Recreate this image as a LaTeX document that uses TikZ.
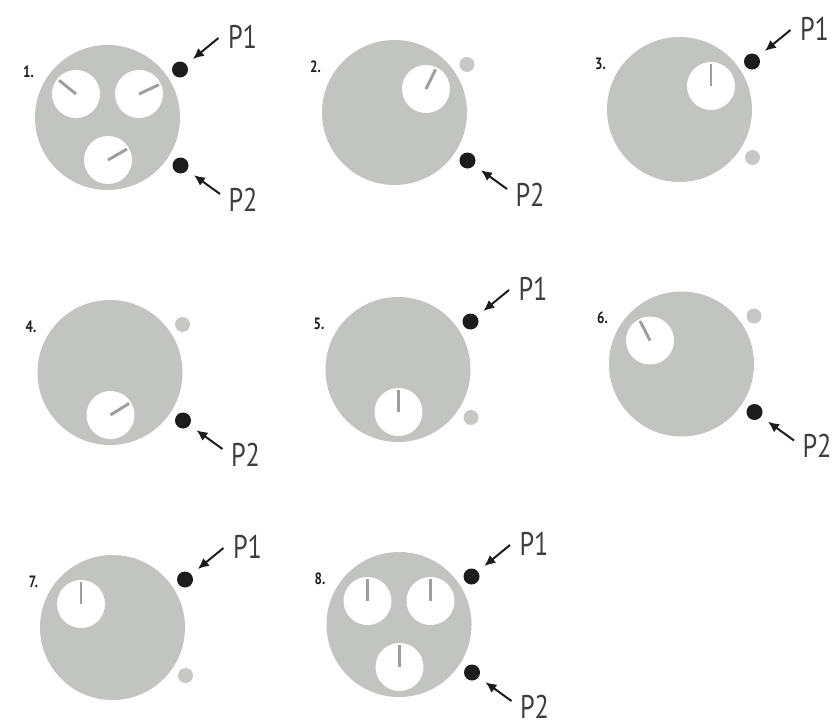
\documentclass[tikz,border=0pt]{standalone}
\usepackage{fontspec}
\newfontfamily\lblfont[FakeStretch=0.8]{PT Sans}
\usepackage{xcolor}
\definecolor{diskgray}{RGB}{193,196,192}
\definecolor{offgray}{RGB}{199,200,198}
\definecolor{needlegray}{RGB}{158,158,156}
\definecolor{inkdark}{RGB}{28,28,28}
\usetikzlibrary{arrows.meta,calc,positioning}
\tikzset{
  disk/.style={circle,fill=diskgray,
    minimum size=4.35cm,inner sep=0pt},
  hole/.style={circle,fill=white,
    minimum size=1.44cm,inner sep=0pt},
  needle/.style={line width=2.5pt,draw=needlegray,
    shorten >=2pt},
  pon/.style={circle,fill=inkdark,
    minimum size=0.48cm,inner sep=0pt},
  poff/.style={circle,fill=offgray,
    minimum size=0.45cm,inner sep=0pt},
  plbl/.style={font=\lblfont\fontsize{28}{30}\selectfont,
    text=inkdark!85,inner sep=0pt},
  numlbl/.style={font=\lblfont\bfseries\fontsize{14}{16}\selectfont,
    text=inkdark,inner sep=0pt},
  ptr/.style={-{Latex[length=0.33cm,width=0.3cm]},
    line width=1.7pt,draw=inkdark,shorten >=0.25cm},
}

\begin{document}
\begin{tikzpicture}[x=0.03cm,y=0.03cm]
  \useasboundingbox (0,0) rectangle (834,-727);

  % 1: three holes, both ports
  \node (d1) [disk] at (107.5,-117.5) {};
  \node (n1) [numlbl] at ($(d1)+(-79,46)$) {1.};
  \node (h1tl) [hole] at ($(d1)+(-31.5,23.5)$) {};
  \node (h1tr) [hole] at ($(d1)+(31.5,23.5)$) {};
  \node (h1b)  [hole] at ($(d1)+(0.5,-42.5)$) {};
  \draw[needle] (h1tl.center) -- (h1tl.141);
  \draw[needle] (h1tr.center) -- (h1tr.25);
  \draw[needle] (h1b.center)  -- (h1b.30);
  \node (s1up) [pon] at ($(d1)+(72.5,48)$) {};
  \node (s1dn) [pon] at ($(d1)+(73,-48)$) {};
  \node (l1up) [plbl] at ($(s1up)+(62.5,32.5)$) {P1};
  \node (l1dn) [plbl] at ($(s1dn)+(62.5,-34)$) {P2};
  \coordinate (t1up) at ($(s1up)+(38.5,31.5)$);
  \coordinate (t1dn) at ($(s1dn)+(39.5,-28.5)$);
  \draw[ptr] (t1up) -- (s1up);
  \draw[ptr] (t1dn) -- (s1dn);

  % 2
  \node (d2) [disk] at (394.5,-112.5) {};
  \node (n2) [numlbl] at ($(d2)+(-79,46)$) {2.};
  \node (h2tr) [hole] at ($(d2)+(31.5,23.5)$) {};
  \draw[needle] (h2tr.center) -- (h2tr.64);
  \node (s2up) [poff] at ($(d2)+(72.5,48)$) {};
  \node (s2dn) [pon] at ($(d2)+(73,-48)$) {};
  \node (l2dn) [plbl] at ($(s2dn)+(62.5,-34)$) {P2};
  \coordinate (t2dn) at ($(s2dn)+(39.5,-28.5)$);
  \draw[ptr] (t2dn) -- (s2dn);

  % 3
  \node (d3) [disk] at (679.5,-109.5) {};
  \node (n3) [numlbl] at ($(d3)+(-79,46)$) {3.};
  \node (h3tr) [hole] at ($(d3)+(31.5,23.5)$) {};
  \draw[needle] (h3tr.center) -- (h3tr.90);
  \node (s3up) [pon] at ($(d3)+(72.5,48)$) {};
  \node (s3dn) [poff] at ($(d3)+(73,-48)$) {};
  \node (l3up) [plbl] at ($(s3up)+(62.5,32.5)$) {P1};
  \coordinate (t3up) at ($(s3up)+(38.5,31.5)$);
  \draw[ptr] (t3up) -- (s3up);

  % 4
  \node (d4) [disk] at (110,-372.5) {};
  \node (n4) [numlbl] at ($(d4)+(-79,46)$) {4.};
  \node (h4b) [hole] at ($(d4)+(0.5,-42.5)$) {};
  \draw[needle] (h4b.center) -- (h4b.32);
  \node (s4up) [poff] at ($(d4)+(72.5,48)$) {};
  \node (s4dn) [pon] at ($(d4)+(73,-48)$) {};
  \node (l4dn) [plbl] at ($(s4dn)+(62.5,-34)$) {P2};
  \coordinate (t4dn) at ($(s4dn)+(39.5,-28.5)$);
  \draw[ptr] (t4dn) -- (s4dn);

  % 5
  \node (d5) [disk] at (398,-369.5) {};
  \node (n5) [numlbl] at ($(d5)+(-79,46)$) {5.};
  \node (h5b) [hole] at ($(d5)+(0.5,-42.5)$) {};
  \draw[needle] (h5b.center) -- (h5b.90);
  \node (s5up) [pon] at ($(d5)+(72.5,48)$) {};
  \node (s5dn) [poff] at ($(d5)+(73,-48)$) {};
  \node (l5up) [plbl] at ($(s5up)+(62.5,32.5)$) {P1};
  \coordinate (t5up) at ($(s5up)+(38.5,31.5)$);
  \draw[ptr] (t5up) -- (s5up);

  % 6
  \node (d6) [disk] at (681.5,-364) {};
  \node (n6) [numlbl] at ($(d6)+(-79,46)$) {6.};
  \node (h6tl) [hole] at ($(d6)+(-31.5,23.5)$) {};
  \draw[needle] (h6tl.center) -- (h6tl.117);
  \node (s6up) [poff] at ($(d6)+(72.5,48)$) {};
  \node (s6dn) [pon] at ($(d6)+(73,-48)$) {};
  \node (l6dn) [plbl] at ($(s6dn)+(62.5,-34)$) {P2};
  \coordinate (t6dn) at ($(s6dn)+(39.5,-28.5)$);
  \draw[ptr] (t6dn) -- (s6dn);

  % 7
  \node (d7) [disk] at (112.5,-627.5) {};
  \node (n7) [numlbl] at ($(d7)+(-79,46)$) {7.};
  \node (h7tl) [hole] at ($(d7)+(-31.5,23.5)$) {};
  \draw[needle] (h7tl.center) -- (h7tl.90);
  \node (s7up) [pon] at ($(d7)+(72.5,48)$) {};
  \node (s7dn) [poff] at ($(d7)+(73,-48)$) {};
  \node (l7up) [plbl] at ($(s7up)+(62.5,32.5)$) {P1};
  \coordinate (t7up) at ($(s7up)+(38.5,31.5)$);
  \draw[ptr] (t7up) -- (s7up);

  % 8: three holes, all needles up
  \node (d8) [disk] at (399,-624.5) {};
  \node (n8) [numlbl] at ($(d8)+(-79,46)$) {8.};
  \node (h8tl) [hole] at ($(d8)+(-31.5,23.5)$) {};
  \node (h8tr) [hole] at ($(d8)+(31.5,23.5)$) {};
  \node (h8b)  [hole] at ($(d8)+(0.5,-42.5)$) {};
  \draw[needle] (h8tl.center) -- (h8tl.90);
  \draw[needle] (h8tr.center) -- (h8tr.90);
  \draw[needle] (h8b.center)  -- (h8b.90);
  \node (s8up) [pon] at ($(d8)+(72.5,48)$) {};
  \node (s8dn) [pon] at ($(d8)+(73,-48)$) {};
  \node (l8up) [plbl] at ($(s8up)+(62.5,32.5)$) {P1};
  \node (l8dn) [plbl] at ($(s8dn)+(62.5,-34)$) {P2};
  \coordinate (t8up) at ($(s8up)+(38.5,31.5)$);
  \coordinate (t8dn) at ($(s8dn)+(39.5,-28.5)$);
  \draw[ptr] (t8up) -- (s8up);
  \draw[ptr] (t8dn) -- (s8dn);
\end{tikzpicture}
\end{document}
